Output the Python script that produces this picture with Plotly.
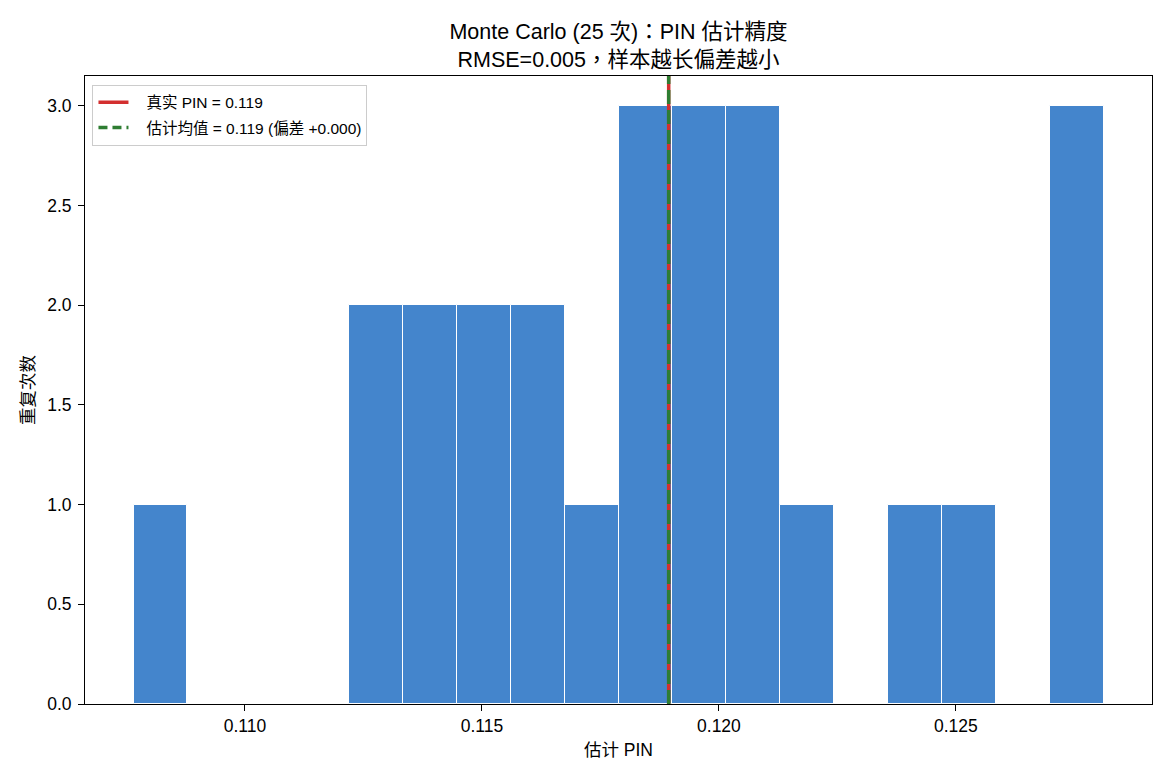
import plotly.graph_objects as go

# ---- data ----
bin_start = 0.107648
bin_width = 0.001137
counts = [1, 0, 0, 0, 2, 2, 2, 2, 1, 3, 3, 3, 1, 0, 1, 1, 0, 3]
true_pin = 0.11894
est_mean = 0.11894
rmse = 0.005
n_runs = 25
x_ticks = [0.110, 0.115, 0.120, 0.125]
y_ticks = [0.0, 0.5, 1.0, 1.5, 2.0, 2.5, 3.0]

centers = [bin_start + bin_width * (i + 0.5) for i in range(len(counts))]
x_lo = bin_start
x_hi = bin_start + bin_width * len(counts)
pad = (x_hi - x_lo) * 0.05
y_max = max(counts) * 1.05

FONT = "Liberation Sans, Arial, Noto Sans CJK TC"
BLUE = "#4485cc"
RED = "#d32f2f"
GREEN = "#2e7d32"
SP = "\u00a0\u00a0\u00a0"

fig = go.Figure()
fig.add_trace(go.Bar(
    x=centers, y=counts, width=[bin_width] * len(counts),
    marker=dict(color=BLUE, line=dict(color="white", width=1)),
    showlegend=False, hoverinfo="x+y",
))

# vertical lines
fig.add_shape(type="line", xref="x", yref="paper", x0=true_pin, x1=true_pin, y0=0, y1=1,
              line=dict(color=RED, width=3.5))
fig.add_shape(type="line", xref="x", yref="paper", x0=est_mean, x1=est_mean, y0=0, y1=1,
              line=dict(color=GREEN, width=3.5, dash="14px,6px"))

# legend entries
fig.add_trace(go.Scatter(x=[None], y=[None], mode="lines",
                         line=dict(color=RED, width=3.5), legendgroup="a",
                         name=f"{SP}真实 PIN = {true_pin:.3f}"))
fig.add_trace(go.Scatter(x=[None], y=[None], mode="lines",
                         line=dict(color=GREEN, width=3.5, dash="9px,5px"), legendgroup="b",
                         name=f"{SP}估计均值 = {est_mean:.3f} (偏差 {est_mean - true_pin:+.3f})"))

fig.update_layout(
    width=1170, height=780,
    margin=dict(l=85, r=18, t=76, b=76),
    paper_bgcolor="white", plot_bgcolor="white",
    font=dict(family=FONT, size=17.5, color="black"),
    bargap=0,
    title=dict(
        text=f"Monte Carlo ({n_runs} 次)：PIN 估计精度<br>RMSE={rmse:.3f}，样本越长偏差越小",
        x=(85 + (1170 - 18)) / 2 / 1170, xanchor="center",
        y=1 - 39 / 780, yanchor="middle",
        font=dict(family=FONT, size=21.5, color="black"),
    ),
    legend=dict(
        x=0.007, y=0.986, xanchor="left", yanchor="top",
        bgcolor="rgba(255,255,255,0.8)", bordercolor="#cccccc", borderwidth=1,
        font=dict(family=FONT, size=15.5, color="black"),
        tracegroupgap=2,
    ),
    xaxis=dict(
        range=[x_lo - pad, x_hi + pad],
        tickvals=x_ticks, ticktext=[f"{v:.3f}" for v in x_ticks],
        ticks="outside", ticklen=6, tickwidth=1, tickcolor="black",
        showline=True, linecolor="black", linewidth=1, mirror=True,
        showgrid=False, zeroline=False,
        tickfont=dict(size=17.5),
        title=dict(text="估计 PIN", font=dict(family=FONT, size=17.5), standoff=8),
    ),
    yaxis=dict(
        range=[0, y_max],
        tickvals=y_ticks, ticktext=[f"{v:.1f}" for v in y_ticks],
        ticks="outside", ticklen=6, tickwidth=1, tickcolor="black",
        showline=True, linecolor="black", linewidth=1, mirror=True,
        showgrid=False, zeroline=False,
        tickfont=dict(size=17.5), ticklabelstandoff=3,
        title=dict(text="重复次数", font=dict(family=FONT, size=17.5), standoff=8),
    ),
)

fig.write_html("out.html")
